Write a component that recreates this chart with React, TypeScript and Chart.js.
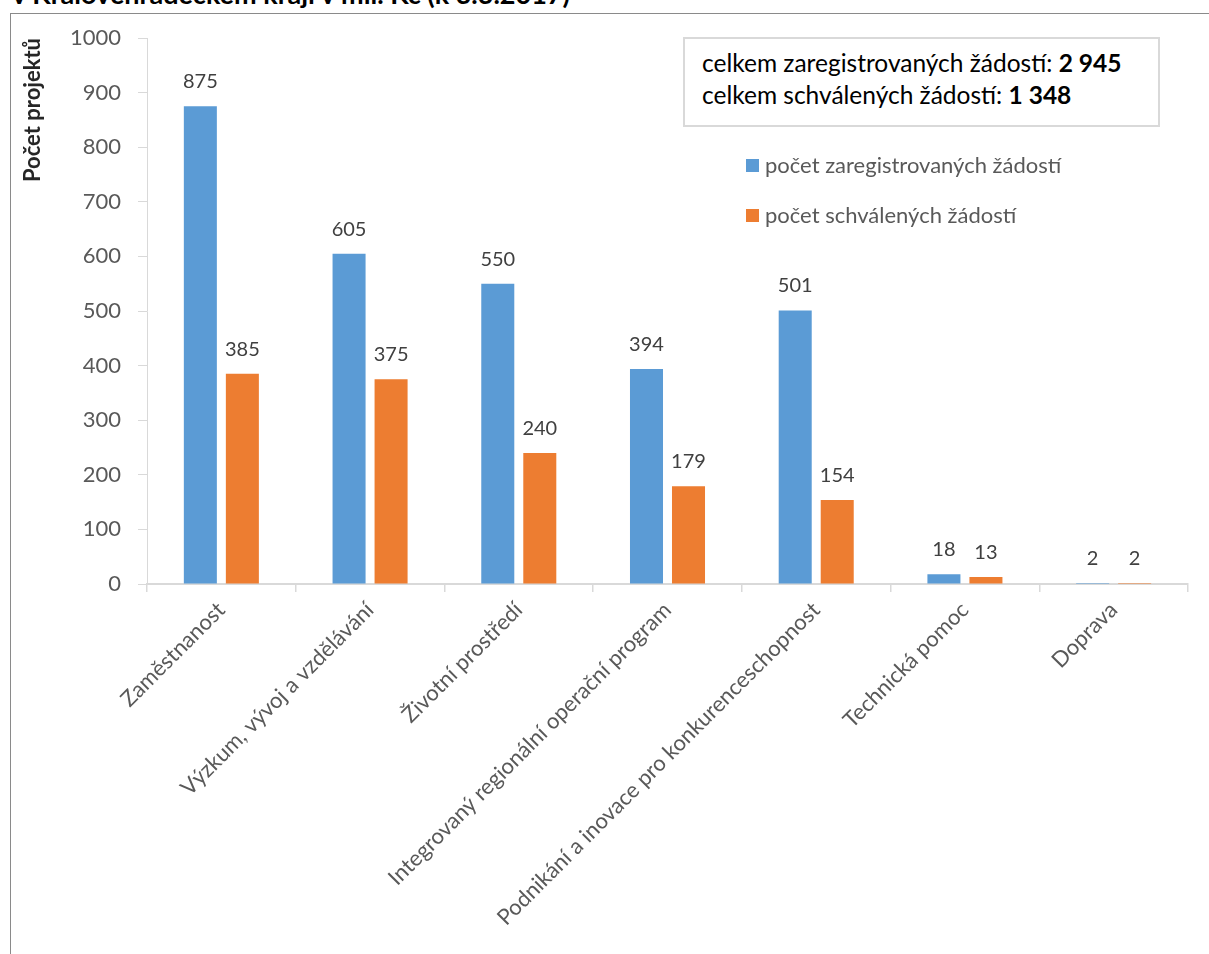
import React, { useEffect, useRef } from "react";
import { Chart, registerables } from "chart.js";

Chart.register(...registerables);

const titleText = "v Královéhradeckém kraji v mil. Kč (k 3.3.2017)";
const yAxisTitle = "Počet projektů";
const categories = [
  "Zaměstnanost",
  "Výzkum, vývoj a vzdělávání",
  "Životní prostředí",
  "Integrovaný regionální operační program",
  "Podnikání a inovace pro konkurenceschopnost",
  "Technická pomoc",
  "Doprava",
];
const registered = [875, 605, 550, 394, 501, 18, 2];
const approved = [385, 375, 240, 179, 154, 13, 2];
const seriesNames = ["počet zaregistrovaných žádostí", "počet schválených žádostí"];
const seriesColors = ["#5b9bd5", "#ed7d31"];
const yMin = 0;
const yMax = 1000;
const yStep = 100;
const totalLabels = ["celkem zaregistrovaných žádostí: ", "celkem schválených žádostí: "];
const totalValues = ["2 945", "1 348"];

const FONT = "Lato, Carlito, Calibri, sans-serif";

const valueLabels = {
  id: "valueLabels",
  afterDatasetsDraw(chart: any) {
    const ctx = chart.ctx;
    ctx.save();
    ctx.font = `20px ${FONT}`;
    ctx.fillStyle = "#404040";
    ctx.textAlign = "center";
    ctx.textBaseline = "alphabetic";
    chart.data.datasets.forEach((ds: any, i: number) => {
      const meta = chart.getDatasetMeta(i);
      meta.data.forEach((el: any, j: number) => {
        ctx.fillText(String(ds.data[j]), el.x, el.y - 18);
      });
    });
    ctx.restore();
  },
};

export default function App() {
  const ref = useRef<HTMLCanvasElement>(null);
  useEffect(() => {
    if (!ref.current) return;
    const chart = new Chart(ref.current, {
      type: "bar",
      data: {
        labels: categories,
        datasets: [
          { label: seriesNames[0], data: registered, backgroundColor: seriesColors[0] },
          { label: seriesNames[1], data: approved, backgroundColor: seriesColors[1] },
        ],
      },
      options: {
        responsive: false,
        animation: false,
        devicePixelRatio: 1,
        categoryPercentage: 0.565,
        barPercentage: 0.786,
        layout: { padding: { left: 10, right: 21, top: 38, bottom: 0 } },
        plugins: { legend: { display: false }, tooltip: { enabled: false } },
        scales: {
          x: {
            afterFit: (s: any) => {
              s.height = 954 - 584;
            },
            grid: {
              offset: true,
              drawOnChartArea: false,
              drawTicks: true,
              tickLength: 8,
              color: "#d9d9d9",
              lineWidth: 1.5,
            },
            border: { display: true, color: "#d9d9d9", width: 2 },
            ticks: {
              autoSkip: false,
              maxRotation: 45,
              minRotation: 45,
              padding: 5,
              color: "#595959",
              font: { family: FONT, size: 22 },
            },
          },
          y: {
            min: yMin,
            max: yMax,
            afterFit: (s: any) => {
              s.width = 137;
            },
            grid: {
              drawOnChartArea: false,
              drawTicks: true,
              tickLength: 9,
              color: "#d9d9d9",
            },
            border: { display: true, color: "#d9d9d9", width: 1 },
            ticks: {
              stepSize: yStep,
              padding: 17,
              color: "#595959",
              font: { family: FONT, size: 22 },
              callback: (v: any) => String(v),
            },
            title: {
              display: true,
              text: yAxisTitle,
              align: "end",
              color: "#262626",
              padding: { top: 10, bottom: 0 },
              font: { family: FONT, size: 22, weight: "bold" },
            },
          },
        },
      },
      plugins: [valueLabels],
    });
    return () => chart.destroy();
  }, []);

  return (
    <div
      style={{
        position: "absolute",
        left: 0,
        top: 0,
        width: 1209,
        height: 954,
        overflow: "hidden",
        background: "#fff",
        fontFamily: FONT,
      }}
    >
      <div
        style={{
          position: "absolute",
          left: 12,
          top: -22,
          fontSize: 27,
          fontWeight: "bold",
          lineHeight: 1.2,
          whiteSpace: "nowrap",
          color: "#000",
        }}
      >
        {titleText}
      </div>
      <div
        style={{
          position: "absolute",
          left: 10,
          top: 13,
          width: 1300,
          height: 1000,
          border: "1px solid #8a8a8a",
        }}
      />
      <canvas
        ref={ref}
        width={1209}
        height={954}
        style={{ position: "absolute", left: 0, top: 0, width: 1209, height: 954 }}
      />
      <div
        style={{
          position: "absolute",
          left: 683,
          top: 37,
          width: 473,
          height: 86,
          border: "2px solid #d9d9d9",
          background: "#fff",
        }}
      >
        {totalLabels.map((t, i) => (
          <div
            key={i}
            style={{
              position: "absolute",
              left: 17,
              top: 8 + i * 32,
              fontSize: 24.5,
              lineHeight: "32px",
              whiteSpace: "nowrap",
              color: "#000",
            }}
          >
            {t}
            <b>{totalValues[i]}</b>
          </div>
        ))}
      </div>
      {seriesNames.map((n, i) => (
        <div
          key={n}
          style={{
            position: "absolute",
            left: 746,
            top: 150 + i * 50,
            height: 30,
            display: "flex",
            alignItems: "center",
            whiteSpace: "nowrap",
          }}
        >
          <span
            style={{
              display: "inline-block",
              width: 13,
              height: 13,
              background: seriesColors[i],
              marginRight: 6,
            }}
          />
          <span style={{ fontSize: 22, color: "#595959", lineHeight: "30px" }}>{n}</span>
        </div>
      ))}
    </div>
  );
}
